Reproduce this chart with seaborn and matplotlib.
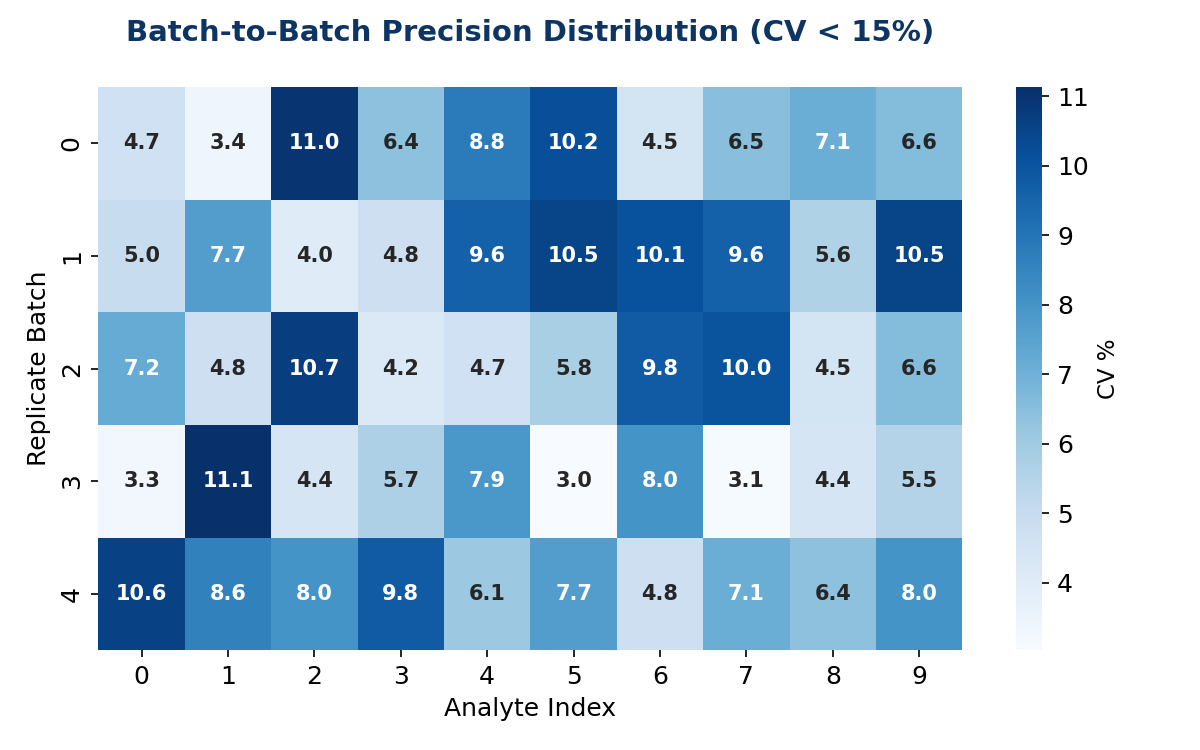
import matplotlib
matplotlib.use("Agg")
import matplotlib.pyplot as plt
import numpy as np
import seaborn as sns

# CV % per replicate batch (rows) and analyte (columns)
batch_0 = [4.7, 3.4, 11.0, 6.4, 8.8, 10.2, 4.5, 6.5, 7.1, 6.6]
batch_1 = [5.0, 7.7, 4.0, 4.8, 9.6, 10.5, 10.1, 9.6, 5.6, 10.5]
batch_2 = [7.2, 4.8, 10.7, 4.2, 4.7, 5.8, 9.8, 10.0, 4.5, 6.6]
batch_3 = [3.3, 11.13, 4.4, 5.7, 7.9, 3.03, 8.0, 3.1, 4.4, 5.5]
batch_4 = [10.6, 8.6, 8.0, 9.8, 6.1, 7.7, 4.8, 7.1, 6.4, 8.0]

cv = np.array([batch_0, batch_1, batch_2, batch_3, batch_4])

fig = plt.figure(figsize=(8, 5), dpi=150)
ax = fig.add_axes([0.082, 0.133, 0.72, 0.751])
cax = fig.add_axes([0.847, 0.133, 0.0217, 0.751])

sns.heatmap(cv, annot=True, fmt=".1f", cmap="Blues",
            annot_kws={"fontsize": 10, "fontweight": "bold"},
            cbar_ax=cax, cbar_kws={"label": "CV %"}, ax=ax)

ax.set_title("Batch-to-Batch Precision Distribution (CV < 15%)",
             fontsize=14, fontweight="bold", color="#0d3563", pad=22)
ax.set_xlabel("Analyte Index", fontsize=12)
ax.set_ylabel("Replicate Batch", fontsize=12)
ax.tick_params(labelsize=12)

cax.tick_params(labelsize=12)
cax.set_ylabel("CV %", fontsize=11)

plt.savefig("out.png")
